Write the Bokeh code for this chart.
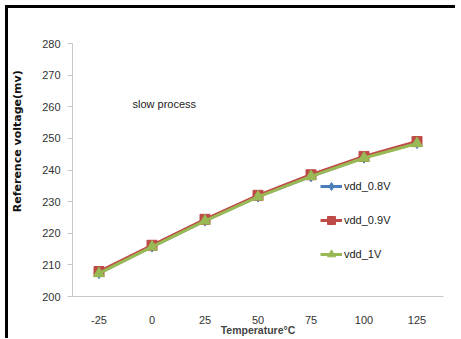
from bokeh.plotting import figure
from bokeh.models import Legend, LegendItem, Label, FactorRange, Range1d, FixedTicker
from bokeh.embed import file_html
from bokeh.resources import INLINE

temps = ["-25", "0", "25", "50", "75", "100", "125"]
vdd_08 = [207.4, 215.8, 224.0, 231.6, 238.0, 243.9, 248.5]
vdd_09 = [207.9, 216.2, 224.4, 232.0, 238.5, 244.3, 249.0]
vdd_1 = [207.3, 215.7, 223.9, 231.5, 238.0, 243.8, 248.4]
y_ticks = [200, 210, 220, 230, 240, 250, 260, 270, 280]

NARROW = "Liberation Sans"

p = figure(frame_width=371, frame_height=253, x_range=FactorRange(*temps), y_range=Range1d(200, 280),
           output_backend="svg", toolbar_location=None,
           min_border_left=62, min_border_right=12, min_border_top=35, min_border_bottom=30,
           styles={"border-top": "3px solid black", "border-left": "3px solid black",
                   "margin-left": "5px", "margin-top": "5px"})
p.outline_line_color = None
p.xgrid.grid_line_color = None
p.ygrid.grid_line_color = None
p.x_range.range_padding = 0

colors = ["#4a7ebb", "#be4b48", "#98b954"]
r1l = p.line(temps, vdd_08, line_color=colors[0], line_width=3)
r1m = p.scatter(temps, vdd_08, marker="diamond", size=11, fill_color=colors[0], line_color=colors[0])
r2l = p.line(temps, vdd_09, line_color=colors[1], line_width=3)
r2m = p.scatter(temps, vdd_09, marker="square", size=10, fill_color=colors[1], line_color=colors[1])
r3l = p.line(temps, vdd_1, line_color=colors[2], line_width=3)
r3m = p.scatter(temps, vdd_1, marker="triangle", size=11, fill_color=colors[2], line_color=colors[2])

legend = Legend(items=[LegendItem(label="vdd_0.8V", renderers=[r1l, r1m]),
                       LegendItem(label="vdd_0.9V", renderers=[r2l, r2m]),
                       LegendItem(label="vdd_1V", renderers=[r3l, r3m])],
                location=(248, 32), background_fill_alpha=0, border_line_color=None,
                padding=0, margin=0, spacing=14, glyph_width=22, glyph_height=20,
                label_height=20, label_standoff=2,
                label_text_font=NARROW, label_text_font_size="11px", label_text_color="#222222")
p.add_layout(legend, "center")

p.add_layout(Label(x=60, y=261, x_units="screen", y_units="data", text="slow process",
                   text_font=NARROW, text_font_size="11px", text_baseline="middle",
                   text_color="#222222"))

p.yaxis.ticker = FixedTicker(ticks=y_ticks)
p.yaxis.axis_line_color = "#c8c8c8"
p.yaxis.major_tick_line_color = "#c8c8c8"
p.yaxis.major_tick_out = 5
p.yaxis.major_tick_in = 0
p.yaxis.minor_tick_line_color = None
p.yaxis.major_label_text_font = NARROW
p.yaxis.major_label_text_font_size = "11px"
p.yaxis.major_label_text_color = "#333333"
p.yaxis.major_label_standoff = 7
# leading no-break spaces lift the label towards the top, as in the original
p.yaxis.axis_label = "\u00a0" * 15 + "Reference voltage(mv)"
p.yaxis.axis_label_text_font = "DejaVu Sans"
p.yaxis.axis_label_text_font_style = "bold"
p.yaxis.axis_label_text_font_size = "11px"
p.yaxis.axis_label_text_color = "#111111"
p.yaxis.axis_label_standoff = 15

p.xaxis.axis_line_color = "#c8c8c8"
p.xaxis.major_tick_line_color = None
p.xaxis.minor_tick_line_color = None
p.xaxis.major_label_text_font = NARROW
p.xaxis.major_label_text_font_size = "11px"
p.xaxis.major_label_text_color = "#333333"
p.xaxis.major_label_standoff = 13
p.xaxis.axis_label = "Temperature°C"
p.xaxis.axis_label_text_font = NARROW
p.xaxis.axis_label_text_font_style = "bold"
p.xaxis.axis_label_text_font_size = "10.5px"
p.xaxis.axis_label_standoff = -3

open("out.html", "w").write(file_html(p, INLINE))
